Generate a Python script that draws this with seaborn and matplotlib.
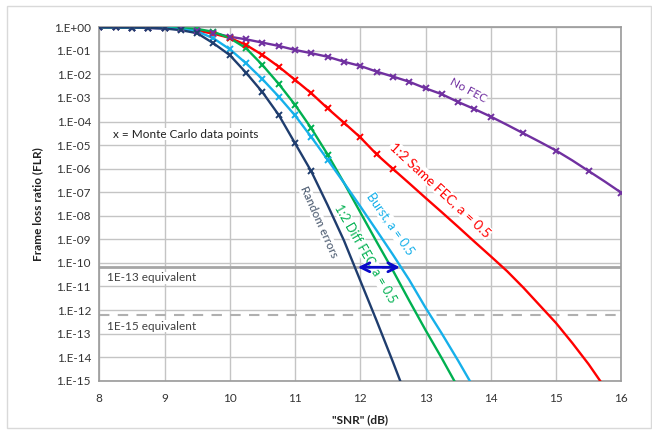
import numpy as np
import pandas as pd
import matplotlib
matplotlib.use("Agg")
import matplotlib.pyplot as plt
from matplotlib.ticker import FuncFormatter, FixedLocator
from matplotlib.patches import Rectangle
import seaborn as sns

# SNR grid (dB) and log10(FLR)
snr = [8.0, 8.25, 8.5, 8.75, 9.0, 9.25, 9.5, 9.75, 10.0, 10.25, 10.5, 10.75,
       11.0, 11.25, 11.5, 11.75, 12.0, 12.25, 12.5, 12.75, 13.0, 13.25, 13.5,
       13.75, 14.0, 14.25, 14.5, 14.75, 15.0, 15.25, 15.5, 15.75, 16.0]

no_fec = [0.0, -0.005, -0.01, -0.03, -0.05, -0.08, -0.14, -0.24, -0.40, -0.51,
          -0.65, -0.79, -0.96, -1.10, -1.25, -1.46, -1.64, -1.88, -2.09, -2.31,
          -2.59, -2.84, -3.17, -3.47, -3.79, -4.14, -4.50, -4.86, -5.23, -5.65,
          -6.10, -6.55, -7.02]
same_fec = [0.0, -0.005, -0.01, -0.02, -0.03, -0.06, -0.14, -0.27, -0.45, -0.75,
            -1.17, -1.67, -2.23, -2.80, -3.44, -4.05, -4.67, -5.39, -6.01, -6.62,
            -7.24, -7.85, -8.47, -9.10, -9.72, -10.35, -11.05, -11.80, -12.55,
            -13.40, -14.30, -15.30]
diff_fec = [0.0, -0.005, -0.01, -0.01, -0.02, -0.04, -0.07, -0.19, -0.46, -0.89,
            -1.60, -2.40, -3.29, -4.29, -5.40, -6.60, -7.85, -9.10, -10.32,
            -11.60, -12.85, -14.05, -15.30]
burst = [0.0, -0.005, -0.01, -0.02, -0.04, -0.08, -0.17, -0.47, -0.93, -1.53,
         -2.20, -2.94, -3.74, -4.66, -5.62, -6.60, -7.60, -8.62, -9.65, -10.72,
         -11.90, -13.00, -14.15, -15.35]
random_err = [0.0, -0.005, -0.01, -0.02, -0.05, -0.12, -0.25, -0.68, -1.18, -1.93,
              -2.75, -3.72, -4.92, -6.12, -7.55, -9.05, -10.75, -12.45, -14.20,
              -16.00]

# Monte Carlo points: SNR values that carry an "x" marker
mc_snr_max = {"No FEC": 16.0, "1:2 Same FEC": 12.5, "1:2 Diff FEC": 11.5,
              "Burst": 11.5, "Random errors": 11.25}
no_fec_mc_snr = snr[:25] + [14.5, 15.0, 15.5, 16.0]

level_13 = 6.5e-11
level_15 = 6.2e-13
arrow_snr = [11.92, 12.65]

curves = {"No FEC": no_fec, "1:2 Same FEC": same_fec, "1:2 Diff FEC": diff_fec,
          "Burst": burst, "Random errors": random_err}
colors = {"No FEC": "#7030a0", "1:2 Same FEC": "#ff0000", "1:2 Diff FEC": "#00b050",
          "Burst": "#16b0ea", "Random errors": "#1f3d6e"}

rows = []
for name, vals in curves.items():
    for s, v in zip(snr, vals):
        rows.append({"curve": name, "snr": s, "flr": 10.0 ** v})
df = pd.DataFrame(rows)
mc = df[df["snr"] <= df["curve"].map(mc_snr_max)]
mc = mc[(mc["curve"] != "No FEC") | mc["snr"].isin(no_fec_mc_snr)]

sns.set_style("white")
plt.rcParams["font.family"] = ["Lato", "DejaVu Sans"]

fig = plt.figure(figsize=(6.52, 4.30), dpi=100)
ax = fig.add_axes([0.1523, 0.1147, 0.8005, 0.8218])
fig.patches.append(Rectangle((7 / 652, 2 / 430), 644 / 652, 422 / 430,
                             transform=fig.transFigure, fill=False,
                             edgecolor="#d9d9d9", lw=1))

ax.set_yscale("log")
sns.lineplot(data=df, x="snr", y="flr", hue="curve", palette=colors,
             legend=False, lw=1.7, ax=ax, sort=False, zorder=3)
for name, sub in mc.groupby("curve"):
    ax.plot(sub["snr"], sub["flr"], ls="none", marker="x", ms=4.5, mew=1.4,
            color=colors[name], zorder=4)

ax.axhline(level_13, color="#a6a6a6", lw=2.0, zorder=2)
ax.axhline(level_15, color="#b0b0b0", lw=1.5, ls=(0, (5, 4)), zorder=2)
ax.annotate("", xy=(arrow_snr[0], level_13), xytext=(arrow_snr[1], level_13),
            arrowprops=dict(arrowstyle="<->", color="#0a0ac8", lw=2,
                            mutation_scale=16), zorder=6)

ax.set_xlim(8, 16)
ax.set_ylim(1e-15, 1)
ax.xaxis.set_major_locator(FixedLocator(range(8, 17)))
ax.yaxis.set_major_locator(FixedLocator([10.0 ** -k for k in range(16)]))
ax.yaxis.set_minor_locator(FixedLocator([]))
ax.yaxis.set_major_formatter(FuncFormatter(lambda v, p: "1.E%+03d" % round(np.log10(v))))
ax.grid(True, color="#c4c4c4", lw=1)
for sp in ax.spines.values():
    sp.set_color("#9a9a9a")
    sp.set_linewidth(1.2)
ax.tick_params(axis="both", labelsize=8.5, colors="#333333", length=3,
               color="#9a9a9a", pad=3)
ax.tick_params(axis="x", pad=6)
ax.set_xlabel('"SNR" (dB)', fontsize=8.5, fontweight="bold", color="#222222", labelpad=7)
ax.set_ylabel("Frame loss ratio (FLR)", fontsize=8.5, fontweight="bold",
              color="#222222", labelpad=8)

box = dict(facecolor="white", edgecolor="none", pad=0.5)
lab = dict(ha="center", va="center", rotation_mode="anchor", zorder=5, bbox=box)
ax.text(13.65, 10 ** -2.66, "No FEC", color="#7030a0", fontsize=8.5, rotation=-28, **lab)
ax.text(13.23, 10 ** -6.90, "1:2 Same FEC, a = 0.5", color="#ff0000", fontsize=10, rotation=-43, **lab)
ax.text(12.46, 10 ** -8.32, "Burst, a = 0.5", color="#16b0ea", fontsize=9, rotation=-55, **lab)
ax.text(12.08, 10 ** -9.59, "1:2 Diff FEC, a = 0.5", color="#00b050", fontsize=9, rotation=-60, **lab)
ax.text(11.37, 10 ** -8.25, "Random errors", color="#44546a", fontsize=8.5, rotation=-66, **lab)

ax.text(8.12, 10 ** -10.64, "1E-13 equivalent", fontsize=8.5, color="#404040",
        ha="left", va="center", zorder=5, bbox=box)
ax.text(8.12, 10 ** -12.68, "1E-15 equivalent", fontsize=8.5, color="#404040",
        ha="left", va="center", zorder=5, bbox=box)
ax.text(8.21, 10 ** -4.53, "x = Monte Carlo data points", fontsize=8.5, color="#202020",
        ha="left", va="center", zorder=5, bbox=box)

fig.savefig("out.png", dpi=100)
